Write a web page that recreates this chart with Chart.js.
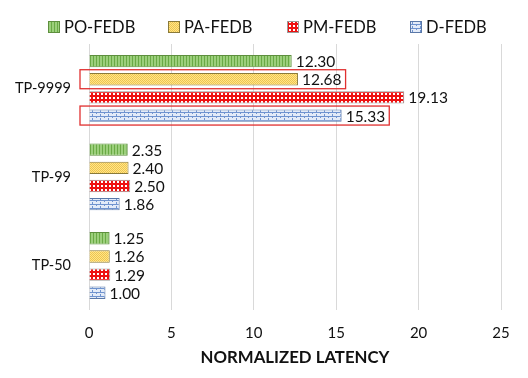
<!DOCTYPE html>
<html><head><meta charset="utf-8">
<script src="https://cdn.jsdelivr.net/npm/chart.js@4/dist/chart.umd.min.js"></script>
<style>html,body{margin:0;padding:0;background:#fff}#wrap{width:528px;height:378px}</style>
</head><body><div id="wrap"><canvas id="c" width="528" height="378"></canvas></div>
<script>
const categories = ["TP-9999", "TP-99", "TP-50"];
const seriesNames = ["PO-FEDB", "PA-FEDB", "PM-FEDB", "D-FEDB"];
const poFedb = [12.30, 2.35, 1.25];
const paFedb = [12.68, 2.40, 1.26];
const pmFedb = [19.13, 2.50, 1.29];
const dFedb = [15.33, 1.86, 1.00];
const xTicks = [0, 5, 10, 15, 20, 25];
// highlighted bars: [datasetIndex, categoryIndex]
const highlighted = [[1, 0], [3, 0]];

const FONT = "Lato, 'Open Sans', sans-serif";

function mkPattern(w, h, draw) {
  const c = document.createElement('canvas');
  c.width = w; c.height = h;
  const g = c.getContext('2d');
  draw(g);
  return document.getElementById('c').getContext('2d').createPattern(c, 'repeat');
}
const greenPat = mkPattern(3, 3, g => {
  g.fillStyle = '#9ccf7c'; g.fillRect(0, 0, 3, 3);
  g.fillStyle = '#6aaa45'; g.fillRect(0, 0, 1, 3);
});
const yellowPat = mkPattern(2, 2, g => {
  g.fillStyle = '#ffe48a'; g.fillRect(0, 0, 2, 2);
  g.fillStyle = '#eec64e'; g.fillRect(0, 0, 1, 1); g.fillRect(1, 1, 1, 1);
});
const redPat = mkPattern(4, 4, g => {
  g.fillStyle = '#ee1111'; g.fillRect(0, 0, 4, 4);
  g.fillStyle = '#ffffff'; g.fillRect(1, 1, 2, 2);
});
const bluePat = mkPattern(8, 4, g => {
  g.fillStyle = '#e3ebf8'; g.fillRect(0, 0, 8, 4);
  g.fillStyle = '#6f93cf';
  g.fillRect(0, 0, 8, 1);
  g.fillRect(0, 0, 1, 2);
  g.fillRect(4, 2, 1, 2);
});

const fills = [greenPat, yellowPat, redPat, bluePat];
const borders = ['#5e8f3e', '#8a7a3a', '#9a9a9a', '#5a78a8'];
const values = [poFedb, paFedb, pmFedb, dFedb];
const legendX = [48, 168, 287, 410];

const labelPlugin = {
  id: 'vals',
  afterDatasetsDraw(chart) {
    const ctx = chart.ctx;
    ctx.save();
    ctx.font = "15.5px " + FONT;
    ctx.fillStyle = '#111';
    ctx.textBaseline = 'middle';
    ctx.textAlign = 'left';
    chart.data.datasets.forEach((ds, i) => {
      chart.getDatasetMeta(i).data.forEach((bar, j) => {
        ctx.fillText(ds.data[j].toFixed(2), bar.x + 4, bar.y + 1);
      });
    });
    // highlight boxes
    ctx.strokeStyle = '#e03030';
    ctx.lineWidth = 1.3;
    highlighted.forEach(([i, j]) => {
      const bar = chart.getDatasetMeta(i).data[j];
      const txtW = ctx.measureText(chart.data.datasets[i].data[j].toFixed(2)).width;
      const x0 = chart.chartArea.left - 9;
      const x1 = bar.x + 4 + txtW + 4;
      ctx.strokeRect(x0, bar.y - 9.5, x1 - x0, 19);
    });
    // legend
    ctx.font = "16.5px " + FONT;
    chart.data.datasets.forEach((ds, i) => {
      const x = legendX[i];
      ctx.fillStyle = ds.backgroundColor;
      ctx.fillRect(x, 21, 12, 12);
      ctx.strokeStyle = ds.borderColor;
      ctx.lineWidth = 1;
      ctx.strokeRect(x + 0.5, 21.5, 11, 11);
      ctx.fillStyle = '#111';
      ctx.fillText(ds.label, x + 16, 28);
    });
    ctx.restore();
  }
};

new Chart(document.getElementById('c'), {
  type: 'bar',
  data: {
    labels: categories,
    datasets: seriesNames.map((n, i) => ({
      label: n,
      data: values[i],
      backgroundColor: fills[i],
      borderColor: borders[i],
      borderWidth: 1,
      categoryPercentage: 0.82,
      barPercentage: 0.68
    }))
  },
  options: {
    indexAxis: 'y',
    responsive: false,
    animation: false,
    devicePixelRatio: 1,
    layout: { padding: { left: 0, right: 27, top: 44, bottom: 6 } },
    plugins: {
      legend: { display: false },
      tooltip: { enabled: false }
    },
    scales: {
      x: {
        min: 0, max: 25,
        afterBuildTicks(s) { s.ticks = xTicks.map(v => ({ value: v })); },
        grid: { color: '#d9d9d9', drawTicks: false },
        border: { display: false },
        ticks: { font: { size: 15, family: FONT }, color: '#111', padding: 14 },
        title: { display: true, text: 'NORMALIZED LATENCY', font: { size: 16.8, weight: 'bold', family: FONT }, color: '#111', padding: { top: -8, bottom: 4 } }
      },
      y: {
        grid: { display: false },
        border: { display: true, color: '#d9d9d9' },
        ticks: { font: { size: 14.5, family: FONT }, color: '#111', padding: 10 },
        afterFit(s) { s.width = 89; }
      }
    }
  },
  plugins: [labelPlugin]
});
</script></body></html>
